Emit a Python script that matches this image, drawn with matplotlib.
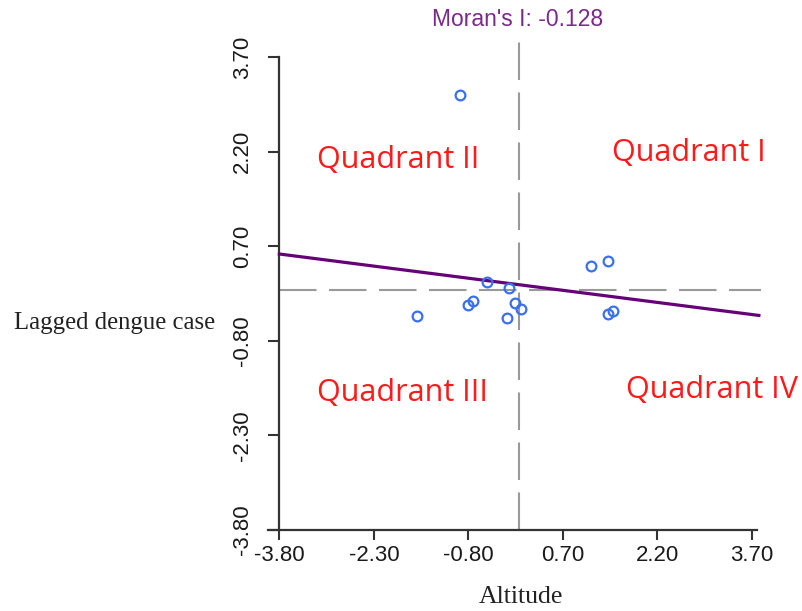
import matplotlib
matplotlib.use("Agg")
import matplotlib.pyplot as plt
import numpy as np

# Data (standardized altitude vs. spatially lagged dengue case)
altitude = [-0.94, -1.61, -0.80, -0.72, -0.50, -0.15, -0.06, 0.04, -0.19, 1.14, 1.42, 1.41, 1.49]
lagged_case = [3.10, -0.41, -0.24, -0.17, 0.13, 0.03, -0.20, -0.30, -0.44, 0.38, 0.47, -0.37, -0.33]
morans_i = -0.128
intercept = 0.09
tick_values = [-3.80, -2.30, -0.80, 0.70, 2.20, 3.70]
tick_labels = ["-3.80", "-2.30", "-0.80", "0.70", "2.20", "3.70"]
quadrants = ["Quadrant I", "Quadrant II", "Quadrant III", "Quadrant IV"]

W, H = 803, 611
fig = plt.figure(figsize=(W / 100, H / 100), dpi=100)
ax = fig.add_axes([268 / W, (H - 530) / H, 489 / W, 473 / H])
ax.set_xlim(-3.98, 3.78)
ax.set_ylim(-3.80, 3.70)

for s in ["top", "right"]:
    ax.spines[s].set_visible(False)
ax.spines["left"].set_position(("data", -3.80))
for s in ["left", "bottom"]:
    ax.spines[s].set_linewidth(1.6)
    ax.spines[s].set_color("#333333")

ax.set_xticks(tick_values)
ax.set_xticklabels(tick_labels, family="Liberation Sans", fontsize=16, color="#1a1a1a")
ax.set_yticks(tick_values)
ax.set_yticklabels(tick_labels, family="Liberation Sans", fontsize=16, color="#1a1a1a",
                   rotation=90, va="center")
ax.tick_params(axis="x", length=7, width=1.5, color="#333333", pad=4)
ax.tick_params(axis="y", length=8, width=1.5, color="#333333", pad=11)

# reference dashed lines
ax.plot([0, 0], [-3.80, 3.95], color="#999999", lw=1.5, dashes=(18, 6), clip_on=False, zorder=1)
ax.plot([-3.80, 3.85], [0, 0], color="#999999", lw=1.5, dashes=(18, 6), clip_on=False, zorder=1)

# regression line
xs = np.array([-3.80, 3.81])
ax.plot(xs, intercept + morans_i * xs, color="#660077", lw=2.3, clip_on=False, zorder=3)

# points
ax.plot(altitude, lagged_case, linestyle="none", marker="o", markersize=7,
        markerfacecolor="none", markeredgecolor="#3a6ff0", markeredgewidth=1.6, zorder=4)

# title
fig.text(518 / W, 1 - 26 / H, "Moran's I: -0.128", color="#7a2a8a", fontsize=16.5,
         family="Liberation Sans", ha="center", va="baseline")

# quadrant labels
qpos = {"Quadrant I": (612, 161), "Quadrant II": (317, 168),
        "Quadrant III": (317, 401), "Quadrant IV": (626, 398)}
for q in quadrants:
    x, y = qpos[q]
    fig.text(x / W, 1 - y / H, q, color="#ff1a1a", fontsize=22,
             family="Open Sans", ha="left", va="baseline")

# axis labels
fig.text(14 / W, 1 - 329 / H, "Lagged dengue case", family="Liberation Serif",
         fontsize=17.8, color="#222222", ha="left", va="baseline")
fig.text(521 / W, 1 - 603 / H, "Altitude", family="Liberation Serif",
         fontsize=18.5, color="#222222", ha="center", va="baseline")

fig.savefig("out.png", dpi=100)
